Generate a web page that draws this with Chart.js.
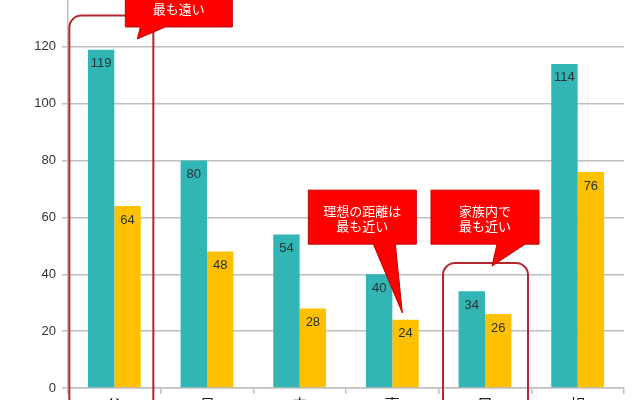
<!DOCTYPE html>
<html>
<head>
<meta charset="utf-8">
<script src="https://cdn.jsdelivr.net/npm/chart.js@4.4.1/dist/chart.umd.min.js"></script>
<style>
    html, body { margin: 0; padding: 0; width: 640px; height: 400px; overflow: hidden; background: #fff; }
    #wrap { position: absolute; left: 0; top: -30px; width: 640px; height: 450px; }
</style>
</head>
<body>
<div id="wrap"><canvas id="barChartCanvas" width="640" height="450"></canvas></div>
<script>
let categories = ['父と子', '母と子', '夫から妻', '妻から夫', '兄弟姉妹', '祖父母と孫'];
let actualDistance = [119, 80, 54, 40, 34, 114];
let idealDistance = [64, 48, 28, 24, 26, 76];
let yTickMin = 0;
let yTickMax = 140;
let yTickStep = 20;

let teal = '#31b5b5';
let yellow = '#ffc000';
let gridGray = '#bfbfbf';

// numbers written just inside the top of each bar
let valueLabels = {
    id: 'valueLabels',
    afterDatasetsDraw: function (chart) {
        let ctx = chart.ctx;
        ctx.save();
        ctx.font = '13px "Liberation Sans", Arial, sans-serif';
        ctx.fillStyle = '#263333';
        ctx.textAlign = 'center';
        ctx.textBaseline = 'middle';
        chart.data.datasets.forEach(function (ds, di) {
            chart.getDatasetMeta(di).data.forEach(function (bar, i) {
                ctx.fillText(ds.data[i], bar.x, bar.y + 14);
            });
        });
        ctx.restore();
    }
};

// red callouts and outlined boxes, placed from the scales
let callouts = {
    id: 'callouts',
    afterDraw: function (chart) {
        let ctx = chart.ctx;
        let x = chart.scales.x, y = chart.scales.y;
        let cx = function (i) { return x.getPixelForValue(i); };
        let py = function (v) { return y.getPixelForValue(v); };
        let bottom = chart.height + 20;

        let frame = function (l, r, t) {
            ctx.beginPath();
            ctx.roundRect(l, t, r - l, bottom - t, 12);
            ctx.strokeStyle = '#b3262b';
            ctx.lineWidth = 2;
            ctx.stroke();
        };

        let bubble = function (l, r, t, b, tail, lines) {
            ctx.beginPath();
            ctx.moveTo(l, t);
            ctx.lineTo(r, t);
            ctx.lineTo(r, b);
            ctx.lineTo(tail[2], b);
            ctx.lineTo(tail[4], tail[5]);
            ctx.lineTo(tail[0], b);
            ctx.lineTo(l, b);
            ctx.closePath();
            ctx.fillStyle = '#ff0000';
            ctx.fill();
            ctx.strokeStyle = '#c00000';
            ctx.lineWidth = 1;
            ctx.stroke();
            ctx.fillStyle = '#ffffff';
            ctx.font = '13px "Noto Sans CJK JP", sans-serif';
            ctx.textAlign = 'center';
            ctx.textBaseline = 'middle';
            let mid = (l + r) / 2;
            lines.forEach(function (txt, k) {
                ctx.fillText(txt, mid, b - 18 - (lines.length - 1 - k) * 15);
            });
        };

        ctx.save();
        frame(cx(0) - 45, cx(0) + 39, py(131));
        frame(cx(4) - 42, cx(4) + 43, py(44));

        bubble(cx(0) + 11, cx(0) + 118, py(150), py(127),
            [cx(0) + 26, 0, cx(0) + 51, 0, cx(0) + 23, py(122.8)],
            ['最も遠い']);
        bubble(cx(3) - 84, cx(3) + 24, py(69.6), py(50.6),
            [cx(3) - 19, 0, cx(3) + 3, 0, cx(3) + 10, py(26.4)],
            ['理想の距離は', '最も近い']);
        bubble(cx(4) - 54, cx(4) + 54, py(69.6), py(50.6),
            [cx(4) + 12, 0, cx(4) + 40, 0, cx(4) + 7, py(42.9)],
            ['家族内で', '最も近い']);
        ctx.restore();
    }
};

let barChartDraw = function () {
    let ctx = document.getElementById('barChartCanvas').getContext('2d');

    window.barChart = new Chart(ctx, {
        type: 'bar',
        data: {
            labels: categories,
            datasets: [
                { label: '現実', data: actualDistance, backgroundColor: teal },
                { label: '理想', data: idealDistance, backgroundColor: yellow }
            ]
        },
        options: {
            responsive: false,
            animation: false,
            categoryPercentage: 0.57,
            barPercentage: 1,
            layout: { padding: { top: 20, right: 16, left: 0, bottom: 0 } },
            plugins: {
                legend: { display: false },
                tooltip: { enabled: false }
            },
            scales: {
                x: {
                    offset: true,
                    grid: { offset: true, drawOnChartArea: false, drawTicks: true, tickLength: 6, color: gridGray, lineWidth: 1.5 },
                    border: { color: gridGray, width: 1.5 },
                    ticks: {
                        color: '#222',
                        padding: 1,
                        font: { size: 16, family: '"Noto Sans CJK JP", sans-serif' },
                        // labels are set vertically, one character per line
                        callback: function (value, index) { return categories[index].split(''); }
                    },
                    afterFit: function (scale) { scale.height = 32; }
                },
                y: {
                    min: yTickMin,
                    max: yTickMax,
                    ticks: { stepSize: yTickStep, color: '#333', padding: 6, font: { size: 13, family: '"Liberation Sans", Arial, sans-serif' } },
                    grid: { color: gridGray, lineWidth: 1.5, tickLength: 6 },
                    border: { color: gridGray, width: 1.5 },
                    afterFit: function (scale) { scale.width = 68; }
                }
            }
        },
        plugins: [valueLabels, callouts]
    });
};

barChartDraw();
</script>
</body>
</html>
